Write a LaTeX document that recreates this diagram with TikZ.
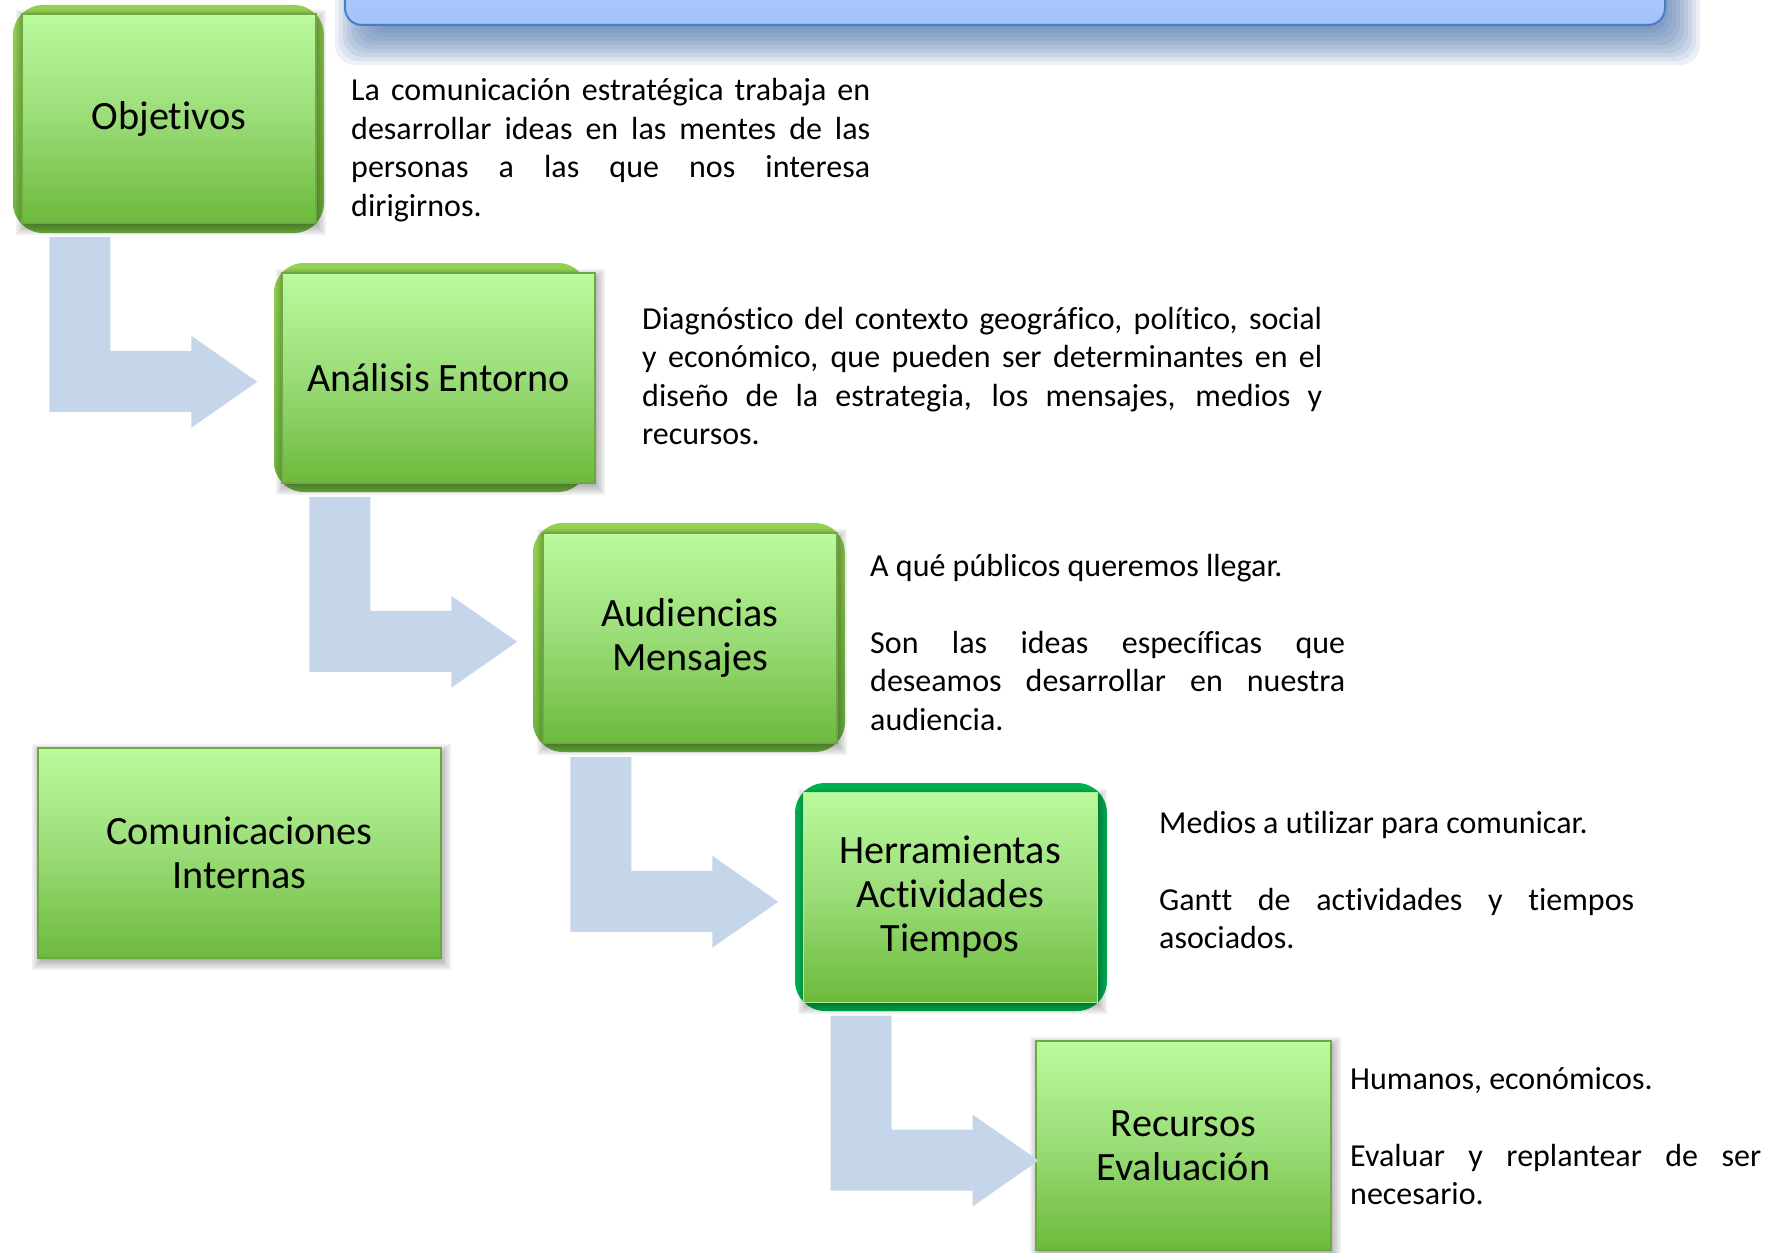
\documentclass[tikz,border=0pt]{standalone}
\usepackage{fontspec}
\setmainfont{Carlito}[Ligatures=NoCommon]
\usetikzlibrary{calc}
\definecolor{gtop}{HTML}{BBFA9D}
\definecolor{gmid}{HTML}{9ADC77}
\definecolor{gbot}{HTML}{6CBA3C}
\definecolor{gedge}{HTML}{6FA843}
\definecolor{bgtop}{HTML}{93D151}
\definecolor{bgbot}{HTML}{6DB43D}
\definecolor{vivid}{HTML}{00B050}
\definecolor{arrowblue}{HTML}{C5D5EA}
\definecolor{bantop}{HTML}{C2D9FE}
\definecolor{banbot}{HTML}{A2C2FB}
\definecolor{banedge}{HTML}{4A7DC6}
\definecolor{banshadow}{HTML}{2F5C9E}
\pgfdeclarelayer{bg}
\pgfdeclarelayer{shadow}
\pgfsetlayers{bg,shadow,main}
\tikzset{
  greenbox/.style={rectangle, draw=gedge, line width=1.5pt, top color=gtop, bottom color=gbot, middle color=gmid,
    inner sep=0pt, align=center, font=\fontsize{40.2}{44}\selectfont, text=black},
  bodytext/.style={anchor=base west, inner sep=0pt, align=left, font=\fontsize{32}{38.5}\selectfont, text=black},
  roundbg/.style={rounded corners=30pt, top color=bgtop, bottom color=bgbot, draw=none},
  flowarrow/.style={fill=arrowblue, draw=none},
}
% normal interword spacing inside a text node
\newcommand\normsp{\spaceskip=0pt\xspaceskip=0pt\relax}
% a justified line of given width
\newcommand\jline[2]{\makebox[#1][s]{\normsp #2}}
\newcommand\boxshadow[1]{%
  \begin{pgfonlayer}{shadow}
  \foreach \e in {-5,-3,...,7} {
    \fill[black, opacity=0.06] ($(#1.north west)+({-(\e)+2},{-(\e)+4})$) rectangle ($(#1.south east)+({(\e)+2},{(\e)+4})$);
  }
  \end{pgfonlayer}}
\newcommand\bentarrow[2]{%
  \coordinate (#2o) at (#1.south west);
  \fill[flowarrow] ($(#2o)+(28,13)$) -- ($(#2o)+(89,13)$) -- ($(#2o)+(89,127)$) -- ($(#2o)+(170,127)$)
    -- ($(#2o)+(170,112)$) -- ($(#2o)+(236,158)$) coordinate (#2tip) -- ($(#2o)+(170,204)$)
    -- ($(#2o)+(170,188)$) -- ($(#2o)+(28,188)$) -- cycle;}
\begin{document}
\begin{tikzpicture}[x=1pt,y=-1pt]
\useasboundingbox (0,0) rectangle (1787,1252);
\clip (0,0) rectangle (1787,1252);
% banner with shadow
\foreach \e in {-22,-18,...,22} {
  \fill[banshadow, opacity=0.095, rounded corners=20pt] ({357-(\e)},{-80-(\e)}) rectangle ({1678+(\e)},{43+(\e)});
}
\draw[banedge, line width=2pt, top color=bantop, bottom color=banbot, rounded corners=17pt] (345,-80) rectangle (1665,25);

% green boxes
\node[greenbox, minimum width=294pt, minimum height=209pt] (obj) at (169,118.5) {Objetivos};
\node[greenbox, minimum width=313pt, minimum height=210pt] (ana) at (438.5,378) {Análisis Entorno};
\node[greenbox, minimum width=294pt, minimum height=210pt] (aud) at (690,638) {Audiencias\\Mensajes};
\node[greenbox, draw=gtop!60!gmid, line width=1pt, minimum width=294pt, minimum height=210pt] (her) at (950,897) {Herramientas\\Actividades\\Tiempos};
\node[greenbox, minimum width=295pt, minimum height=209pt] (rec) at (1183.5,1145.5) {Recursos\\Evaluación};
\node[greenbox, minimum width=403pt, minimum height=210pt] (com) at (239.5,853) {Comunicaciones\\Internas};

\boxshadow{obj}\boxshadow{ana}\boxshadow{aud}\boxshadow{her}\boxshadow{rec}\boxshadow{com}

\begin{pgfonlayer}{bg}
  \path[roundbg] (13,5) rectangle (324,233);
  \path[roundbg] (274,263) rectangle (588,492);
  \path[roundbg] (533,523) rectangle (845,752);
  \fill[vivid, rounded corners=30pt] (795,783) rectangle (1107,1011);
\end{pgfonlayer}

% bent arrows
\bentarrow{obj}{a1}
\bentarrow{ana}{a2}
\bentarrow{aud}{a3}
\bentarrow{her}{a4}

% texts
\node[bodytext, text width=519pt] (t1) at (351,101) {\normsp
\jline{519pt}{La comunicación estratégica trabaja en}\\
\jline{519pt}{desarrollar ideas en las mentes de las}\\
\jline{519pt}{personas a las que nos interesa}\\
dirigirnos.};
\node[bodytext, text width=680pt] (t2) at (642,329) {\normsp
\jline{680pt}{Diagnóstico del contexto geográfico, político, social}\\
\jline{680pt}{y económico, que pueden ser determinantes en el}\\
\jline{680pt}{diseño de la estrategia, los mensajes, medios y}\\
recursos.};
\node[bodytext, text width=475pt] (t3) at (870,576) {\normsp
A qué públicos queremos llegar.\\[38.5pt]
\jline{475pt}{Son las ideas específicas que}\\
\jline{475pt}{deseamos desarrollar en nuestra}\\
audiencia.};
\node[bodytext, text width=475pt] (t4) at (1159,833) {\normsp
Medios a utilizar para comunicar.\\[38.5pt]
\jline{475pt}{Gantt de actividades y tiempos}\\
asociados.};
\node[bodytext, text width=411pt] (t5) at (1350,1089) {\normsp
Humanos, económicos.\\[38.5pt]
\jline{411pt}{Evaluar y replantear de ser}\\
necesario.};
\end{tikzpicture}
\end{document}
